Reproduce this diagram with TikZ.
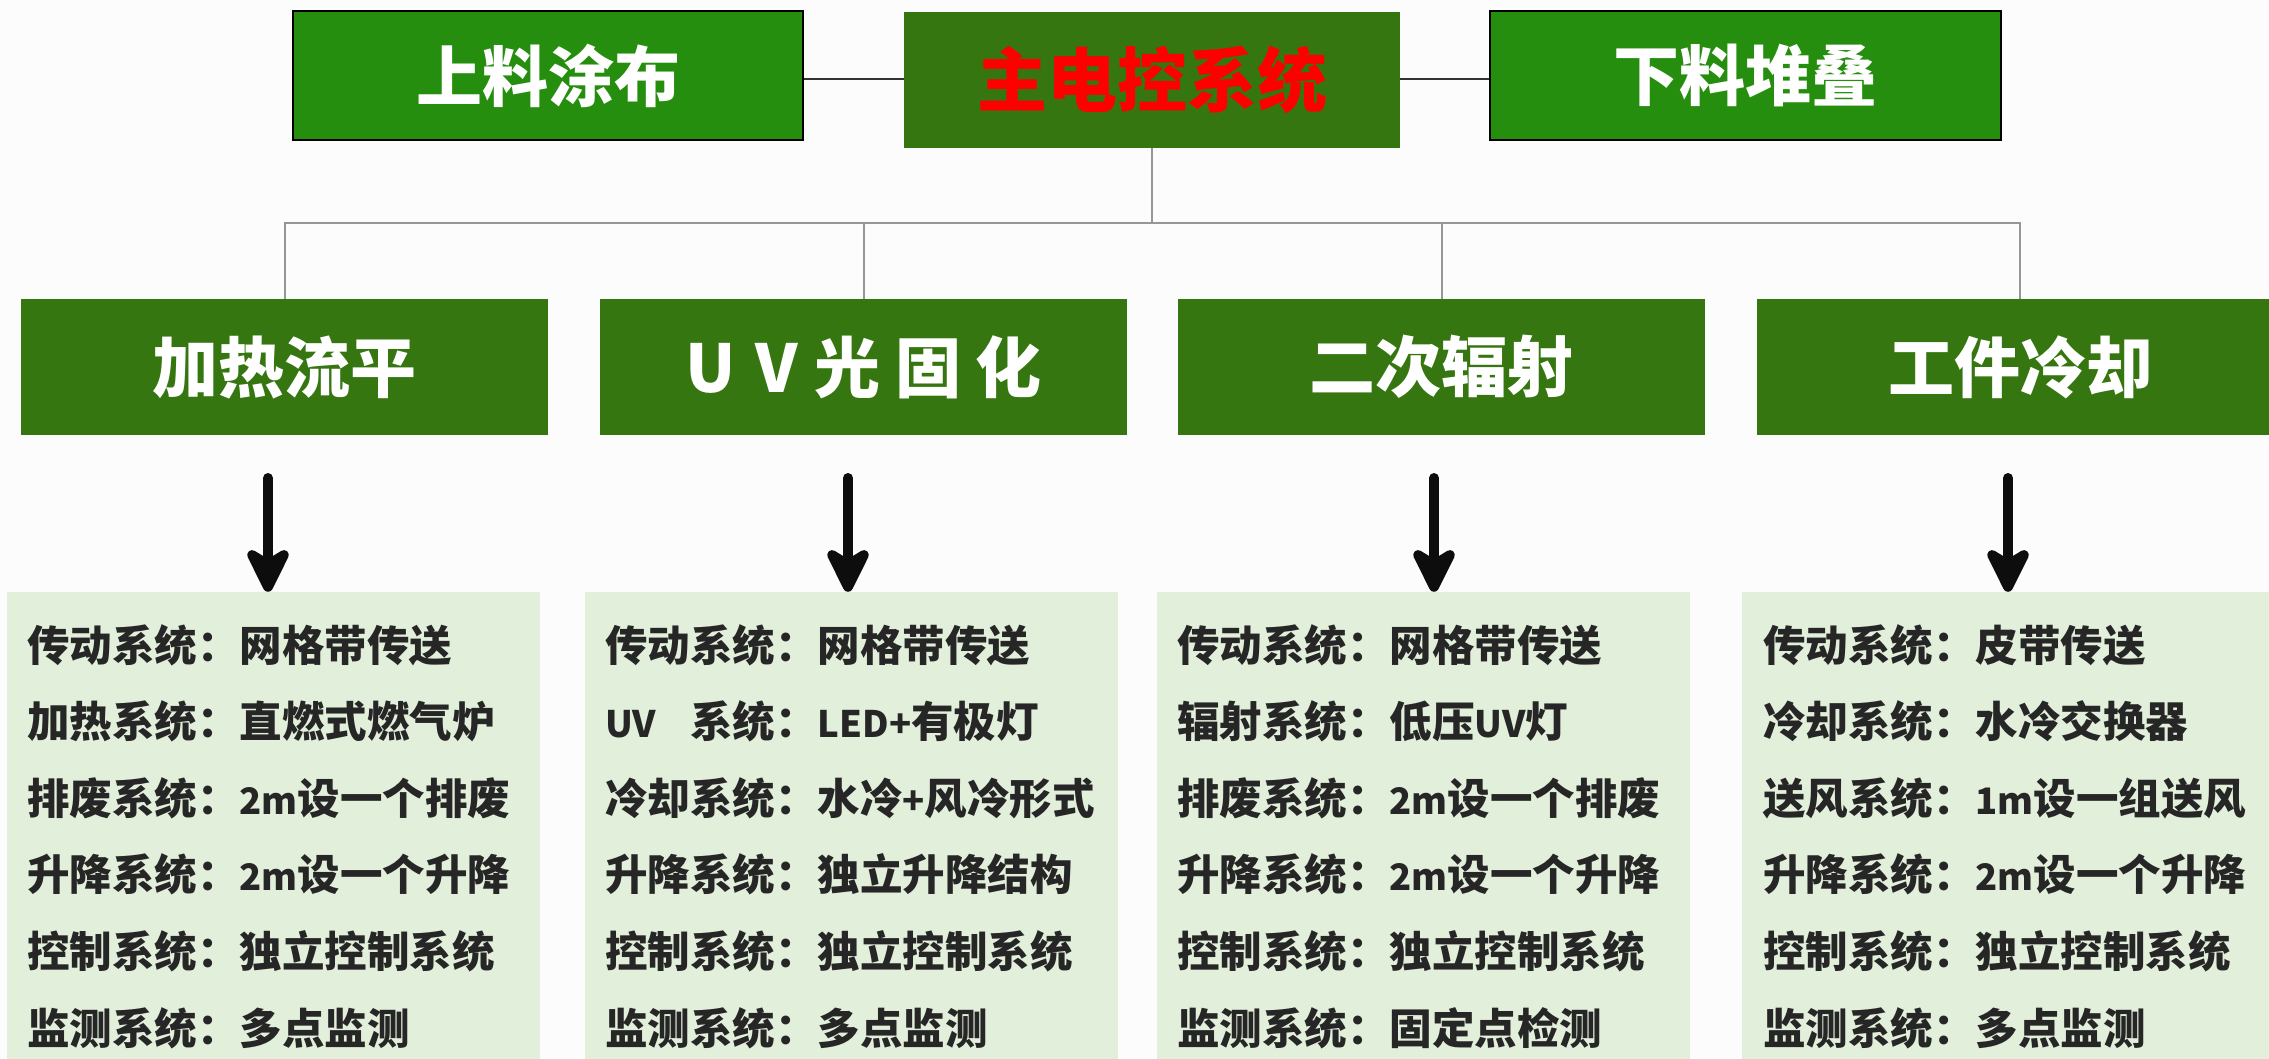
\documentclass[tikz,border=0pt]{standalone}
\usepackage{fontspec}
\setmainfont{Noto Sans CJK SC}
\usetikzlibrary{arrows.meta}
\definecolor{bgc}{RGB}{252,252,252}
\definecolor{brightgreen}{RGB}{38,142,14}
\definecolor{darkgreen}{RGB}{53,118,16}
\definecolor{paleg}{RGB}{226,239,218}
\definecolor{txt}{RGB}{38,38,38}
\definecolor{treeline}{RGB}{150,150,150}
\newcommand\latrun[1]{{\fontsize{36.5pt}{50pt}\selectfont #1}}
\tikzset{
  sidebox/.style={draw=black, line width=2.5pt, fill=brightgreen, inner sep=0pt,
    text=white, font=\fontsize{66pt}{70pt}\selectfont\bfseries},
  mainbox/.style={fill=darkgreen, inner sep=0pt, text=red,
    font=\fontsize{70pt}{74pt}\selectfont\bfseries},
  stagebox/.style={fill=darkgreen, inner sep=0pt, minimum width=527pt, minimum height=136pt,
    text=white, font=\fontsize{66pt}{70pt}\selectfont\bfseries},
  panel/.style={fill=paleg, inner sep=0pt, minimum width=533pt, minimum height=480pt},
  item/.style={anchor=base west, inner sep=0pt, text=txt,
    font=\fontsize{42.5pt}{50pt}\selectfont\bfseries},
  topline/.style={draw=black!80, line width=2.5pt},
  tree/.style={draw=treeline, line width=2pt},
  bigarrow/.style={line width=10pt, line cap=round, black!95,
    -{Stealth[length=55pt,width=54pt,inset=16pt,round]}}
}
\begin{document}
\begin{tikzpicture}[x=1pt,y=-1pt]
\fill[bgc] (0,0) rectangle (2269,1058);
\useasboundingbox (0,0) rectangle (2269,1058);

% top row
\node[sidebox, minimum width=510pt, minimum height=129pt] (feed) at (548,75.5) {上料涂布};
\node[mainbox, minimum width=496pt, minimum height=136pt] (main) at (1152,80) {主电控系统};
\node[sidebox, minimum width=511pt, minimum height=129pt] (stack) at (1745.5,75.5) {下料堆叠};
\draw[topline] (feed.east |- 0,79) -- (main.west |- 0,79);
\draw[topline] (main.east |- 0,79) -- (stack.west |- 0,79);

% stage boxes
\node[stagebox] (s1) at (284.5,367) {加热流平};
\node[stagebox] (s2) at (863.5,367) {U\hspace{0.3em}V\hspace{0.25em}光\hspace{0.22em}固\hspace{0.22em}化};
\node[stagebox] (s3) at (1441.5,367) {二次辐射};
\node[stagebox] (s4) at (2020,367) {工件冷却\hspace{24pt}};

% tree
\coordinate (bus) at (1152,223);
\draw[tree] (main.south) -- (bus);
\draw[tree] (s1.north) |- (bus);
\draw[tree] (s2.north) |- (bus);
\draw[tree] (s3.north) |- (bus);
\draw[tree] (s4.north) |- (bus);

% panels
\node[panel] (p1) at (273.5,832) {};
\node[panel] (p2) at (851,832) {};
\node[panel] (p3) at (1423.5,832) {};
\node[panel] (p4) at (2008.5,832) {};

% arrows
\coordinate (a1) at (268,478);
\coordinate (a2) at (848,478);
\coordinate (a3) at (1434,478);
\coordinate (a4) at (2008,478);
\draw[bigarrow] (a1) -- (a1 |- p1.north);
\draw[bigarrow] (a2) -- (a2 |- p2.north);
\draw[bigarrow] (a3) -- (a3 |- p3.north);
\draw[bigarrow] (a4) -- (a4 |- p4.north);

% panel texts
\foreach \t [count=\i] in {传动系统：网格带传送, 加热系统：直燃式燃气炉, 排废系统：\latrun{2m}设一个排废,
  升降系统：\latrun{2m}设一个升降, 控制系统：独立控制系统, 监测系统：多点监测}
  \node[item] (ta\i) at (27,{661+76.6*(\i-1)}) {\t};
\foreach \t [count=\i] in {传动系统：网格带传送, {\makebox[2em][l]{\latrun{UV}}系统：\latrun{LED+}有极灯}, 冷却系统：水冷\latrun{+}风冷形式,
  升降系统：独立升降结构, 控制系统：独立控制系统, 监测系统：多点监测}
  \node[item] (tb\i) at (605,{661+76.6*(\i-1)}) {\t};
\foreach \t [count=\i] in {传动系统：网格带传送, 辐射系统：低压\latrun{UV}灯, 排废系统：\latrun{2m}设一个排废,
  升降系统：\latrun{2m}设一个升降, 控制系统：独立控制系统, 监测系统：固定点检测}
  \node[item] (tc\i) at (1177,{661+76.6*(\i-1)}) {\t};
\foreach \t [count=\i] in {传动系统：皮带传送, 冷却系统：水冷交换器, 送风系统：\latrun{1m}设一组送风,
  升降系统：\latrun{2m}设一个升降, 控制系统：独立控制系统, 监测系统：多点监测}
  \node[item] (td\i) at (1763,{661+76.6*(\i-1)}) {\t};
\end{tikzpicture}
\end{document}
